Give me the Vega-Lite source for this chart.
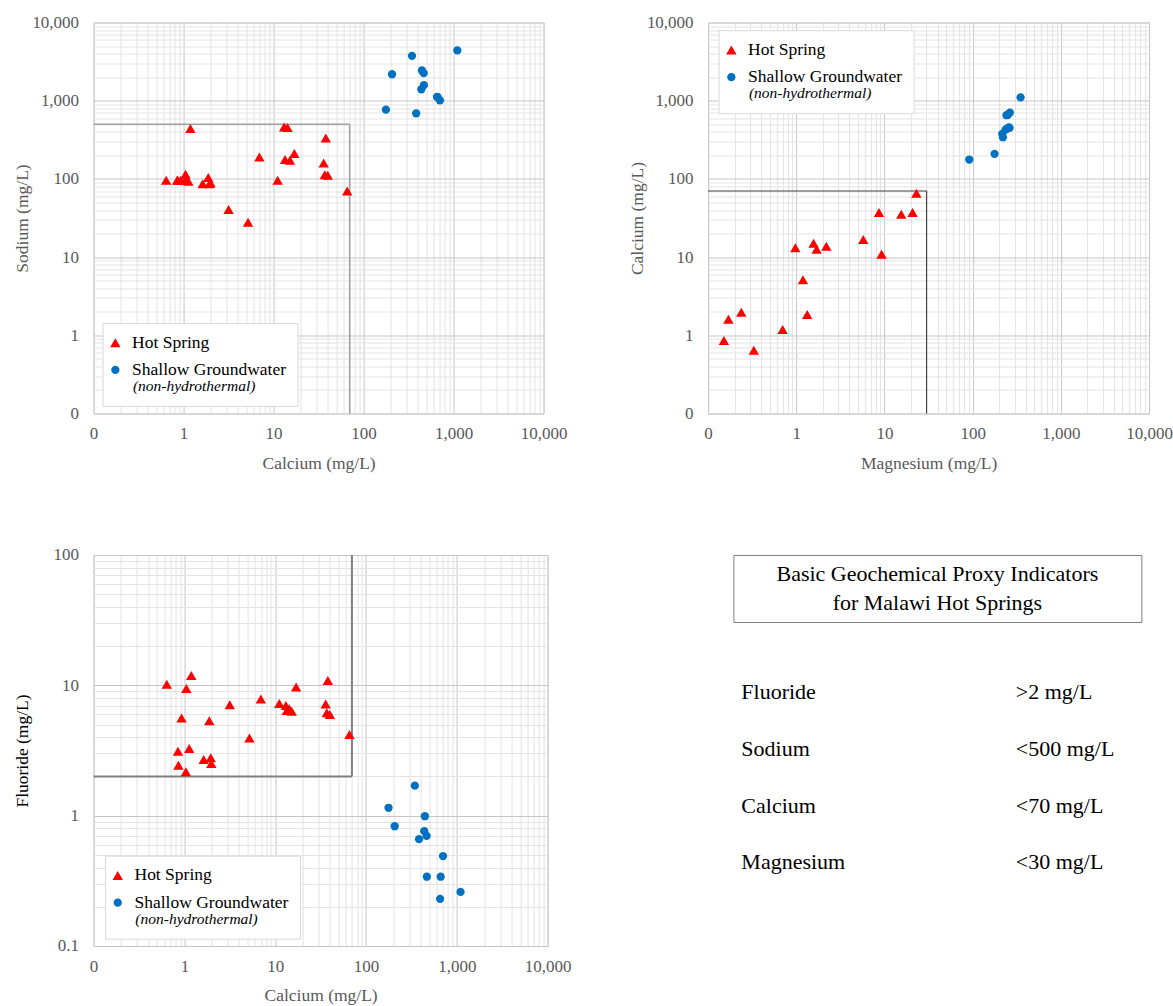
{
  "$schema": "https://vega.github.io/schema/vega-lite/v6.json",
  "background": "white",
  "padding": {"left": 12.6, "top": 12.5, "right": 0, "bottom": 0},
  "config": {
    "font": "Liberation Serif, Times New Roman, serif",
    "view": {"stroke": "#d9d9d9"},
    "axis": {
      "labelFont": "Liberation Serif, Times New Roman, serif", "titleFont": "Liberation Serif, Times New Roman, serif",
      "labelFontSize": 17, "titleFontSize": 17.5,
      "labelColor": "#595959", "titleColor": "#595959", "titleFontWeight": "normal",
      "ticks": false, "tickSize": 0, "domain": false,
      "labelFlush": false, "labelOverlap": false, "labelBound": false, "gridWidth": 1
    },
    "legend": {
      "orient": "none",
      "labelFont": "Liberation Serif, Times New Roman, serif", "labelFontSize": 17.5, "labelColor": "black",
      "titleFont": "Liberation Serif, Times New Roman, serif", "titleFontSize": 15.5, "titleFontStyle": "italic",
      "titleFontWeight": "normal", "titleColor": "black", "titleOrient": "bottom",
      "titleAnchor": "start", "titlePadding": 1,
      "strokeColor": "#d9d9d9", "fillColor": "white", "padding": 11, "rowPadding": 8.2,
      "symbolSize": 105, "symbolStrokeWidth": 0, "symbolOffset": -7, "labelOffset": 8,
      "labelLimit": 300, "titleLimit": 300
    }
  },
  "datasets": {
    "samples": [
      {"type": "Hot Spring", "Ca": 0.64, "Na": 96, "F": 10.2},
      {"type": "Hot Spring", "Ca": 1.19, "Na": 440, "F": 11.9},
      {"type": "Hot Spring", "Ca": 3.16, "Na": 40.5, "F": 7.1},
      {"type": "Hot Spring", "Ca": 5.2, "Na": 28, "F": 3.95},
      {"type": "Hot Spring", "Ca": 6.95, "Na": 190, "F": 7.87},
      {"type": "Hot Spring", "Ca": 11.1, "Na": 96, "F": 7.24},
      {"type": "Hot Spring", "Ca": 65.8, "Na": 70, "F": 4.19},
      {"type": "Hot Spring", "Ca": 17.0, "Na": 211, "F": 9.73},
      {"type": "Hot Spring", "Ca": 13.1, "Na": 462, "F": 6.99},
      {"type": "Hot Spring", "Ca": 14.3, "Na": 454, "F": 6.6},
      {"type": "Hot Spring", "Ca": 13.4, "Na": 177, "F": 6.4},
      {"type": "Hot Spring", "Ca": 15.2, "Na": 173, "F": 6.32},
      {"type": "Hot Spring", "Ca": 38, "Na": 334, "F": 10.9},
      {"type": "Hot Spring", "Ca": 36, "Na": 160, "F": 7.19},
      {"type": "Hot Spring", "Ca": 37, "Na": 113, "F": 6.15},
      {"type": "Hot Spring", "Ca": 40, "Na": 111, "F": 5.97},
      {"type": "Hot Spring", "Ca": 1.05, "Na": 115, "F": 9.44},
      {"type": "Hot Spring", "Ca": 0.93, "Na": 96, "F": 5.62},
      {"type": "Hot Spring", "Ca": 1.88, "Na": 104, "F": 5.36},
      {"type": "Hot Spring", "Ca": 0.85, "Na": 96, "F": 3.12},
      {"type": "Hot Spring", "Ca": 1.13, "Na": 93, "F": 3.27},
      {"type": "Hot Spring", "Ca": 1.63, "Na": 87, "F": 2.7},
      {"type": "Hot Spring", "Ca": 1.95, "Na": 87, "F": 2.78},
      {"type": "Hot Spring", "Ca": 1.98, "Na": 90, "F": 2.51},
      {"type": "Hot Spring", "Ca": 0.86, "Na": 97, "F": 2.44},
      {"type": "Hot Spring", "Ca": 1.04, "Na": 96, "F": 2.17},
      {"type": "Shallow Groundwater", "Ca": 1100, "Na": 4400, "F": 0.26},
      {"type": "Shallow Groundwater", "Ca": 345, "Na": 3750, "F": 1.7},
      {"type": "Shallow Groundwater", "Ca": 207, "Na": 2180, "F": 0.83},
      {"type": "Shallow Groundwater", "Ca": 177, "Na": 770, "F": 1.15},
      {"type": "Shallow Groundwater", "Ca": 384, "Na": 690, "F": 0.66},
      {"type": "Shallow Groundwater", "Ca": 705, "Na": 1010, "F": 0.49},
      {"type": "Shallow Groundwater", "Ca": 665, "Na": 1110, "F": 0.34},
      {"type": "Shallow Groundwater", "Ca": 655, "Na": 1120, "F": 0.23},
      {"type": "Shallow Groundwater", "Ca": 445, "Na": 2440, "F": 0.99},
      {"type": "Shallow Groundwater", "Ca": 465, "Na": 2250, "F": 0.7},
      {"type": "Shallow Groundwater", "Ca": 468, "Na": 1580, "F": 0.34},
      {"type": "Shallow Groundwater", "Ca": 438, "Na": 1400, "F": 0.76}
    ],
    "mgca": [
      {"type": "Hot Spring", "Mg": 23.0, "Ca": 65.6},
      {"type": "Hot Spring", "Mg": 8.65, "Ca": 37.2},
      {"type": "Hot Spring", "Mg": 15.5, "Ca": 35.4},
      {"type": "Hot Spring", "Mg": 20.8, "Ca": 37.2},
      {"type": "Hot Spring", "Mg": 5.75, "Ca": 16.8},
      {"type": "Hot Spring", "Mg": 9.27, "Ca": 10.9},
      {"type": "Hot Spring", "Mg": 0.976, "Ca": 13.2},
      {"type": "Hot Spring", "Mg": 1.57, "Ca": 15.0},
      {"type": "Hot Spring", "Mg": 1.7, "Ca": 12.6},
      {"type": "Hot Spring", "Mg": 2.19, "Ca": 13.8},
      {"type": "Hot Spring", "Mg": 1.19, "Ca": 5.14},
      {"type": "Hot Spring", "Mg": 1.33, "Ca": 1.85},
      {"type": "Hot Spring", "Mg": 0.7, "Ca": 1.19},
      {"type": "Hot Spring", "Mg": 0.238, "Ca": 1.97},
      {"type": "Hot Spring", "Mg": 0.17, "Ca": 1.61},
      {"type": "Hot Spring", "Mg": 0.151, "Ca": 0.855},
      {"type": "Hot Spring", "Mg": 0.33, "Ca": 0.643},
      {"type": "Shallow Groundwater", "Mg": 349, "Ca": 1104},
      {"type": "Shallow Groundwater", "Mg": 264, "Ca": 705},
      {"type": "Shallow Groundwater", "Mg": 242, "Ca": 652},
      {"type": "Shallow Groundwater", "Mg": 250, "Ca": 660},
      {"type": "Shallow Groundwater", "Mg": 257, "Ca": 457},
      {"type": "Shallow Groundwater", "Mg": 262, "Ca": 450},
      {"type": "Shallow Groundwater", "Mg": 236, "Ca": 427},
      {"type": "Shallow Groundwater", "Mg": 245, "Ca": 440},
      {"type": "Shallow Groundwater", "Mg": 216, "Ca": 377},
      {"type": "Shallow Groundwater", "Mg": 220, "Ca": 341},
      {"type": "Shallow Groundwater", "Mg": 177, "Ca": 209},
      {"type": "Shallow Groundwater", "Mg": 91.4, "Ca": 177}
    ],
    "limitsNaCa": [
      {"ca_a": 0.1, "ca_b": 70, "na_a": 500, "na_b": 500},
      {"ca_a": 70, "ca_b": 70, "na_a": 0.1, "na_b": 500}
    ],
    "limitsCaMg": [
      {"mg_a": 0.1, "mg_b": 30, "ca_a": 70, "ca_b": 70},
      {"mg_a": 30, "mg_b": 30, "ca_a": 0.1, "ca_b": 70}
    ],
    "limitsFCa": [
      {"ca_a": 0.1, "ca_b": 70, "f_a": 2, "f_b": 2},
      {"ca_a": 70, "ca_b": 70, "f_a": 2, "f_b": 100}
    ],
    "boxText": [
      {"t": "Basic Geochemical Proxy Indicators\nfor Malawi Hot Springs"}
    ],
    "criteria": [
      {"parameter": "Fluoride", "limit": ">2 mg/L"},
      {"parameter": "Sodium", "limit": "<500 mg/L"},
      {"parameter": "Calcium", "limit": "<70 mg/L"},
      {"parameter": "Magnesium", "limit": "<30 mg/L"}
    ]
  },
  "spacing": 72.5,
  "resolve": {"scale": {"color": "independent", "shape": "independent", "size": "independent"}, "legend": {"color": "independent", "shape": "independent"}},
  "vconcat": [
    {
      "spacing": 59.5,
      "resolve": {"scale": {"color": "independent", "shape": "independent", "size": "independent"}, "legend": {"color": "independent", "shape": "independent"}},
      "hconcat": [
        {
          "width": 450, "height": 391,
          "layer": [
            {
              "data": {"name": "limitsNaCa"},
              "mark": {"type": "rule", "color": "#a0a0a0", "strokeWidth": 1.5},
              "encoding": {
                "x": {"field": "ca_a", "type": "quantitative", "title": "Calcium (mg/L)",
                  "scale": {"type": "log", "domain": [0.1, 10000], "nice": false},
                  "axis": {
                    "labelFont": "Liberation Serif, Times New Roman, serif", "titleFont": "Liberation Serif, Times New Roman, serif",
                    "labelFontSize": 17, "titleFontSize": 17.5,
                    "values": [0.1,0.2,0.3,0.4,0.5,0.6,0.7,0.8,0.9,1,2,3,4,5,6,7,8,9,10,20,30,40,50,60,70,80,90,100,200,300,400,500,600,700,800,900,1000,2000,3000,4000,5000,6000,7000,8000,9000,10000],
                    "labelExpr": "abs(log(datum.value)/LN10 - round(log(datum.value)/LN10)) < 0.001 ? (datum.value < 0.5 ? '0' : format(datum.value, ',')) : ''",
                    "gridColor": {"condition": {"test": "abs(log(datum.value)/LN10 - round(log(datum.value)/LN10)) < 0.001", "value": "#c6c6c6"}, "value": "#e3e3e3"},
                    "labelPadding": 12, "titlePadding": 12.7
                  }},
                "x2": {"field": "ca_b"},
                "y": {"field": "na_a", "type": "quantitative", "title": "Sodium (mg/L)",
                  "scale": {"type": "log", "domain": [0.1, 10000], "nice": false},
                  "axis": {
                    "labelFont": "Liberation Serif, Times New Roman, serif", "titleFont": "Liberation Serif, Times New Roman, serif",
                    "labelFontSize": 17, "titleFontSize": 17.5,
                    "values": [0.1,0.2,0.3,0.4,0.5,0.6,0.7,0.8,0.9,1,2,3,4,5,6,7,8,9,10,20,30,40,50,60,70,80,90,100,200,300,400,500,600,700,800,900,1000,2000,3000,4000,5000,6000,7000,8000,9000,10000],
                    "labelExpr": "abs(log(datum.value)/LN10 - round(log(datum.value)/LN10)) < 0.001 ? (datum.value < 0.5 ? '0' : format(datum.value, ',')) : ''",
                    "gridColor": {"condition": {"test": "abs(log(datum.value)/LN10 - round(log(datum.value)/LN10)) < 0.001", "value": "#c6c6c6"}, "value": "#e3e3e3"},
                    "labelPadding": 15, "titlePadding": 0
                  }},
                "y2": {"field": "na_b"}
              }
            },
            {
              "data": {"name": "samples"},
              "mark": {"type": "point", "filled": true, "opacity": 1, "strokeWidth": 0},
              "encoding": {
                "x": {"field": "Ca", "type": "quantitative"},
                "y": {"field": "Na", "type": "quantitative"},
                "color": {"field": "type", "type": "nominal",
                  "scale": {"domain": ["Hot Spring", "Shallow Groundwater"], "range": ["#ff0000", "#0070c0"]},
                  "legend": {"title": "\u200b\u00a0\u00a0\u00a0\u00a0\u00a0(non-hydrothermal)", "legendX": 9, "legendY": 300.5,
                    "labelFont": "Liberation Serif, Times New Roman, serif", "titleFont": "Liberation Serif, Times New Roman, serif"}},
                "shape": {"field": "type", "type": "nominal",
                  "scale": {"domain": ["Hot Spring", "Shallow Groundwater"], "range": ["triangle-up", "circle"]},
                  "legend": {"title": "\u200b\u00a0\u00a0\u00a0\u00a0\u00a0(non-hydrothermal)", "legendX": 9, "legendY": 300.5,
                    "labelFont": "Liberation Serif, Times New Roman, serif", "titleFont": "Liberation Serif, Times New Roman, serif"}},
                "size": {"field": "type", "type": "nominal",
                  "scale": {"domain": ["Hot Spring", "Shallow Groundwater"], "range": [108, 68]}, "legend": null}
              }
            }
          ]
        },
        {
          "width": 441, "height": 391,
          "layer": [
            {
              "data": {"name": "limitsCaMg"},
              "mark": {"type": "rule", "color": "#404040", "strokeWidth": 1.2},
              "encoding": {
                "x": {"field": "mg_a", "type": "quantitative", "title": "Magnesium (mg/L)",
                  "scale": {"type": "log", "domain": [0.1, 10000], "nice": false},
                  "axis": {
                    "labelFont": "Liberation Serif, Times New Roman, serif", "titleFont": "Liberation Serif, Times New Roman, serif",
                    "labelFontSize": 17, "titleFontSize": 17.5,
                    "values": [0.1,0.2,0.3,0.4,0.5,0.6,0.7,0.8,0.9,1,2,3,4,5,6,7,8,9,10,20,30,40,50,60,70,80,90,100,200,300,400,500,600,700,800,900,1000,2000,3000,4000,5000,6000,7000,8000,9000,10000],
                    "labelExpr": "abs(log(datum.value)/LN10 - round(log(datum.value)/LN10)) < 0.001 ? (datum.value < 0.5 ? '0' : format(datum.value, ',')) : ''",
                    "gridColor": {"condition": {"test": "abs(log(datum.value)/LN10 - round(log(datum.value)/LN10)) < 0.001", "value": "#c6c6c6"}, "value": "#e3e3e3"},
                    "labelPadding": 12, "titlePadding": 12.7
                  }},
                "x2": {"field": "mg_b"},
                "y": {"field": "ca_a", "type": "quantitative", "title": "Calcium (mg/L)",
                  "scale": {"type": "log", "domain": [0.1, 10000], "nice": false},
                  "axis": {
                    "labelFont": "Liberation Serif, Times New Roman, serif", "titleFont": "Liberation Serif, Times New Roman, serif",
                    "labelFontSize": 17, "titleFontSize": 17.5,
                    "values": [0.1,0.2,0.3,0.4,0.5,0.6,0.7,0.8,0.9,1,2,3,4,5,6,7,8,9,10,20,30,40,50,60,70,80,90,100,200,300,400,500,600,700,800,900,1000,2000,3000,4000,5000,6000,7000,8000,9000,10000],
                    "labelExpr": "abs(log(datum.value)/LN10 - round(log(datum.value)/LN10)) < 0.001 ? (datum.value < 0.5 ? '0' : format(datum.value, ',')) : ''",
                    "gridColor": {"condition": {"test": "abs(log(datum.value)/LN10 - round(log(datum.value)/LN10)) < 0.001", "value": "#c6c6c6"}, "value": "#e3e3e3"},
                    "labelPadding": 15, "titlePadding": 0
                  }},
                "y2": {"field": "ca_b"}
              }
            },
            {
              "data": {"name": "mgca"},
              "mark": {"type": "point", "filled": true, "opacity": 1, "strokeWidth": 0},
              "encoding": {
                "x": {"field": "Mg", "type": "quantitative"},
                "y": {"field": "Ca", "type": "quantitative"},
                "color": {"field": "type", "type": "nominal",
                  "scale": {"domain": ["Hot Spring", "Shallow Groundwater"], "range": ["#ff0000", "#0070c0"]},
                  "legend": {"title": "\u200b\u00a0\u00a0\u00a0\u00a0\u00a0(non-hydrothermal)", "legendX": 10.5, "legendY": 7.7,
                    "labelFont": "Liberation Serif, Times New Roman, serif", "titleFont": "Liberation Serif, Times New Roman, serif"}},
                "shape": {"field": "type", "type": "nominal",
                  "scale": {"domain": ["Hot Spring", "Shallow Groundwater"], "range": ["triangle-up", "circle"]},
                  "legend": {"title": "\u200b\u00a0\u00a0\u00a0\u00a0\u00a0(non-hydrothermal)", "legendX": 10.5, "legendY": 7.7,
                    "labelFont": "Liberation Serif, Times New Roman, serif", "titleFont": "Liberation Serif, Times New Roman, serif"}},
                "size": {"field": "type", "type": "nominal",
                  "scale": {"domain": ["Hot Spring", "Shallow Groundwater"], "range": [108, 68]}, "legend": null}
              }
            }
          ]
        }
      ]
    },
    {
      "spacing": 160.8,
      "resolve": {"scale": {"color": "independent", "shape": "independent", "size": "independent"}, "legend": {"color": "independent", "shape": "independent"}},
      "hconcat": [
        {
          "width": 454, "height": 391,
          "layer": [
            {
              "data": {"name": "limitsFCa"},
              "mark": {"type": "rule", "color": "#808080", "strokeWidth": 2},
              "encoding": {
                "x": {"field": "ca_a", "type": "quantitative", "title": "Calcium (mg/L)",
                  "scale": {"type": "log", "domain": [0.1, 10000], "nice": false},
                  "axis": {
                    "labelFont": "Liberation Serif, Times New Roman, serif", "titleFont": "Liberation Serif, Times New Roman, serif",
                    "labelFontSize": 17, "titleFontSize": 17.5,
                    "values": [0.1,0.2,0.3,0.4,0.5,0.6,0.7,0.8,0.9,1,2,3,4,5,6,7,8,9,10,20,30,40,50,60,70,80,90,100,200,300,400,500,600,700,800,900,1000,2000,3000,4000,5000,6000,7000,8000,9000,10000],
                    "labelExpr": "abs(log(datum.value)/LN10 - round(log(datum.value)/LN10)) < 0.001 ? (datum.value < 0.5 ? '0' : format(datum.value, ',')) : ''",
                    "gridColor": {"condition": {"test": "abs(log(datum.value)/LN10 - round(log(datum.value)/LN10)) < 0.001", "value": "#c6c6c6"}, "value": "#e3e3e3"},
                    "labelPadding": 13, "titlePadding": 11.5
                  }},
                "x2": {"field": "ca_b"},
                "y": {"field": "f_a", "type": "quantitative", "title": "Fluoride (mg/L)",
                  "scale": {"type": "log", "domain": [0.1, 100], "nice": false},
                  "axis": {
                    "labelFont": "Liberation Serif, Times New Roman, serif", "titleFont": "Liberation Serif, Times New Roman, serif",
                    "labelFontSize": 17, "titleFontSize": 17.5,
                    "values": [0.1,0.2,0.3,0.4,0.5,0.6,0.7,0.8,0.9,1,2,3,4,5,6,7,8,9,10,20,30,40,50,60,70,80,90,100],
                    "labelExpr": "abs(log(datum.value)/LN10 - round(log(datum.value)/LN10)) < 0.001 ? format(datum.value, ',') : ''",
                    "gridColor": {"condition": {"test": "abs(log(datum.value)/LN10 - round(log(datum.value)/LN10)) < 0.001", "value": "#c6c6c6"}, "value": "#e3e3e3"},
                    "labelPadding": 15, "titlePadding": 22, "titleColor": "black"
                  }},
                "y2": {"field": "f_b"}
              }
            },
            {
              "data": {"name": "samples"},
              "mark": {"type": "point", "filled": true, "opacity": 1, "strokeWidth": 0},
              "encoding": {
                "x": {"field": "Ca", "type": "quantitative"},
                "y": {"field": "F", "type": "quantitative"},
                "color": {"field": "type", "type": "nominal",
                  "scale": {"domain": ["Hot Spring", "Shallow Groundwater"], "range": ["#ff0000", "#0070c0"]},
                  "legend": {"title": "\u200b\u00a0\u00a0\u00a0\u00a0\u00a0(non-hydrothermal)", "legendX": 11.4, "legendY": 300.7,
                    "labelFont": "Liberation Serif, Times New Roman, serif", "titleFont": "Liberation Serif, Times New Roman, serif"}},
                "shape": {"field": "type", "type": "nominal",
                  "scale": {"domain": ["Hot Spring", "Shallow Groundwater"], "range": ["triangle-up", "circle"]},
                  "legend": {"title": "\u200b\u00a0\u00a0\u00a0\u00a0\u00a0(non-hydrothermal)", "legendX": 11.4, "legendY": 300.7,
                    "labelFont": "Liberation Serif, Times New Roman, serif", "titleFont": "Liberation Serif, Times New Roman, serif"}},
                "size": {"field": "type", "type": "nominal",
                  "scale": {"domain": ["Hot Spring", "Shallow Groundwater"], "range": [108, 68]}, "legend": null}
              }
            }
          ]
        },
        {
          "spacing": 12.7,
          "vconcat": [
            {
              "width": 408, "height": 67,
              "view": {"stroke": "#7f7f7f", "strokeWidth": 1},
              "data": {"name": "boxText"},
              "mark": {"type": "text", "lineBreak": "\n", "fontSize": 22, "lineHeight": 28.7, "dy": -14.35, "align": "center", "baseline": "middle", "color": "black", "font": "Liberation Serif, Times New Roman, serif"},
              "encoding": {"text": {"field": "t", "type": "nominal"}}
            },
            {
              "width": 290.4, "height": 283.3,
              "view": {"stroke": null},
              "data": {"name": "criteria"},
              "transform": [{"fold": ["parameter", "limit"], "as": ["col", "txt"]}],
              "mark": {"type": "text", "align": "left", "baseline": "middle", "fontSize": 22, "color": "black", "font": "Liberation Serif, Times New Roman, serif"},
              "encoding": {
                "x": {"field": "col", "type": "nominal", "axis": null,
                  "scale": {"type": "point", "domain": ["parameter", "limit"], "padding": 0.029}},
                "y": {"field": "parameter", "type": "nominal", "axis": null,
                  "scale": {"type": "point", "domain": ["Fluoride", "Sodium", "Calcium", "Magnesium"], "padding": 1.059}},
                "text": {"field": "txt", "type": "nominal"}
              }
            }
          ]
        }
      ]
    }
  ]
}
